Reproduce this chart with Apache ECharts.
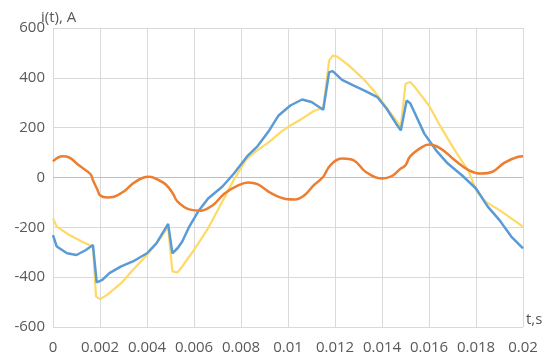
<!DOCTYPE html>
<html>
<head>
<meta charset="utf-8">
<script src="https://cdn.jsdelivr.net/npm/echarts@6/dist/echarts.min.js"></script>
<style>
  html, body { margin: 0; padding: 0; background: #fff; }
  #chart { width: 550px; height: 363px; }
</style>
</head>
<body>
<div id="chart"></div>
<script>
  // tick labels / axis ranges
  var xTicks = [0, 0.002, 0.004, 0.006, 0.008, 0.01, 0.012, 0.014, 0.016, 0.018, 0.02];
  var yTicks = [-600, -400, -200, 0, 200, 400, 600];

  // orange curve
  var tOrange = [0, 0.0004, 0.0007, 0.0011, 0.0016, 0.0017, 0.0019, 0.002, 0.0023, 0.0026, 0.003,
    0.0034, 0.0038, 0.0041, 0.0045, 0.0048, 0.0051, 0.0053, 0.0058, 0.0063, 0.0068, 0.0073,
    0.0079, 0.0083, 0.0087, 0.0093, 0.0099, 0.0103, 0.0107, 0.0111, 0.0115, 0.0118, 0.0123,
    0.0128, 0.0133, 0.014, 0.0144, 0.0148, 0.015, 0.0152, 0.0157, 0.016, 0.0165, 0.0171,
    0.0177, 0.0182, 0.0187, 0.0192, 0.0198, 0.02];
  var iOrange = [65, 85, 80, 49, 13, -11, -51, -71, -80, -77, -57,
    -24, -2, 3, -11, -28, -64, -97, -128, -133, -111, -64,
    -31, -20, -27, -64, -86, -88, -71, -31, 3, 49, 76,
    69, 23, -4, 5, 36, 49, 85, 122, 132, 116, 69,
    29, 16, 23, 59, 83, 85];

  // blue curve
  var tBlue = [0, 0.00016, 0.0006, 0.001, 0.0014, 0.0017, 0.00186, 0.0021, 0.0024, 0.0029, 0.0034,
    0.004, 0.0044, 0.0049, 0.00508, 0.0053, 0.0055, 0.0058, 0.0062, 0.0066, 0.0072, 0.0077,
    0.0083, 0.0087, 0.0092, 0.0096, 0.0101, 0.0106, 0.011, 0.0115, 0.01175, 0.0119, 0.0123,
    0.0128, 0.0133, 0.0138, 0.0142, 0.0146, 0.0148, 0.01505, 0.0152, 0.0154, 0.0158, 0.0163,
    0.0168, 0.0174, 0.018, 0.0185, 0.019, 0.0195, 0.02];
  var iBlue = [-231, -277, -304, -311, -291, -271, -421, -411, -384, -357, -337,
    -304, -264, -186, -304, -284, -257, -197, -133, -84, -37, 16,
    89, 125, 189, 249, 289, 313, 303, 272, 423, 427, 392,
    369, 347, 323, 276, 216, 189, 309, 298, 258, 176, 109,
    56, 9, -44, -117, -171, -237, -284];

  // yellow curve
  var tYellow = [0, 0.00016, 0.0007, 0.0013, 0.0017, 0.00183, 0.002, 0.0023, 0.0029, 0.0034, 0.004,
    0.0044, 0.0049, 0.00508, 0.0053, 0.0055, 0.006, 0.0066, 0.0072, 0.0077, 0.0082, 0.0086,
    0.0092, 0.0097, 0.0101, 0.0106, 0.0111, 0.0115, 0.01175, 0.0119, 0.0121, 0.0126, 0.0132,
    0.0137, 0.0142, 0.0146, 0.0148, 0.015, 0.0152, 0.0154, 0.016, 0.0165, 0.0171, 0.0177,
    0.018, 0.0184, 0.019, 0.0195, 0.02];
  var iYellow = [-164, -197, -231, -261, -277, -477, -488, -471, -424, -371, -311,
    -264, -200, -377, -381, -357, -291, -204, -97, -8, 69, 103,
    143, 183, 209, 236, 267, 280, 469, 489, 485, 449, 396,
    343, 280, 229, 203, 376, 383, 363, 289, 203, 109, 23,
    -51, -97, -131, -164, -197];

  function pairs(t, v) {
    return t.map(function (x, k) { return [x, v[k]]; });
  }

  var labelStyle = { color: '#595959', fontSize: 15, fontFamily: 'Open Sans' };

  function line(name, t, v, color, width, smooth, z) {
    return {
      name: name, type: 'line', data: pairs(t, v),
      showSymbol: false, smooth: smooth, z: z,
      lineStyle: { color: color, width: width },
      itemStyle: { color: color }
    };
  }

  var chart = echarts.init(document.getElementById('chart'));
  var zeroLine = line('yellow', tYellow, iYellow, '#FFD966', 2.2, false, 2);
  zeroLine.markLine = {
    silent: true, symbol: 'none', label: { show: false },
    lineStyle: { color: '#bfbfbf', width: 1, type: 'solid' },
    data: [{ yAxis: 0 }], z: 1
  };

  chart.setOption({
    animation: false,
    // y axis caption, Excel puts it just left of the plot top
    title: {
      text: 'i(t), A', left: 36, top: 5,
      textStyle: { color: '#595959', fontSize: 15, fontWeight: 'normal', fontFamily: 'Open Sans' }
    },
    grid: { left: 53, right: 27, top: 28, bottom: 36 },
    xAxis: {
      type: 'value', min: xTicks[0], max: xTicks[xTicks.length - 1], interval: 0.002,
      name: 't,s', nameLocation: 'end', nameGap: 3,
      nameTextStyle: { color: '#595959', fontSize: 15, fontFamily: 'Open Sans', verticalAlign: 'bottom', padding: [0, 0, 0, 0] },
      axisLine: { show: false, onZero: false }, axisTick: { show: false },
      axisLabel: Object.assign({ margin: 13 }, labelStyle),
      splitLine: { show: true, lineStyle: { color: '#d9d9d9', width: 1 } }
    },
    yAxis: {
      type: 'value', min: yTicks[0], max: yTicks[yTicks.length - 1], interval: 200,
      axisLine: { show: false }, axisTick: { show: false },
      axisLabel: Object.assign({ margin: 8 }, labelStyle),
      splitLine: { show: true, lineStyle: { color: '#d9d9d9', width: 1 } }
    },
    series: [
      zeroLine,
      line('blue', tBlue, iBlue, '#5B9BD5', 2.5, false, 3),
      line('orange', tOrange, iOrange, '#ED7D31', 2.5, 0.4, 4)
    ]
  });
</script>
</body>
</html>
